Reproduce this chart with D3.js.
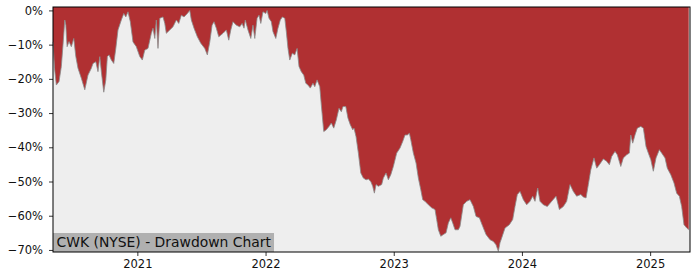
<!DOCTYPE html>
<html><head><meta charset="utf-8">
<script src="https://cdn.jsdelivr.net/npm/d3@7"></script>
<style>body{margin:0;background:#fff}svg{display:block}</style>
</head><body>
<svg id="c" width="700" height="280"></svg>
<script>
// decimal-year dates and drawdown values (%)
const dates = [2020.342,2020.354,2020.368,2020.389,2020.407,2020.420,2020.434,2020.442,2020.452,2020.467,2020.485,2020.504,2020.520,2020.537,2020.563,2020.590,2020.615,2020.641,2020.654,2020.676,2020.693,2020.707,2020.719,2020.738,2020.754,2020.766,2020.779,2020.797,2020.816,2020.832,2020.849,2020.875,2020.894,2020.910,2020.927,2020.945,2020.966,2020.992,2021.019,2021.039,2021.058,2021.083,2021.109,2021.122,2021.136,2021.148,2021.161,2021.175,2021.200,2021.214,2021.226,2021.253,2021.278,2021.304,2021.323,2021.343,2021.364,2021.390,2021.409,2021.421,2021.442,2021.468,2021.495,2021.526,2021.546,2021.565,2021.583,2021.598,2021.616,2021.635,2021.668,2021.694,2021.713,2021.729,2021.746,2021.772,2021.799,2021.817,2021.832,2021.842,2021.863,2021.885,2021.902,2021.916,2021.934,2021.949,2021.963,2021.980,2022.002,2022.012,2022.027,2022.045,2022.058,2022.080,2022.097,2022.115,2022.131,2022.150,2022.162,2022.175,2022.189,2022.209,2022.228,2022.246,2022.261,2022.279,2022.298,2022.314,2022.331,2022.349,2022.370,2022.384,2022.402,2022.423,2022.435,2022.454,2022.474,2022.495,2022.513,2022.532,2022.552,2022.573,2022.591,2022.604,2022.626,2022.643,2022.661,2022.680,2022.690,2022.706,2022.724,2022.743,2022.763,2022.784,2022.802,2022.821,2022.836,2022.849,2022.862,2022.880,2022.906,2022.919,2022.940,2022.958,2022.977,2022.997,2023.023,2023.049,2023.070,2023.088,2023.106,2023.122,2023.133,2023.153,2023.174,2023.192,2023.211,2023.226,2023.244,2023.270,2023.296,2023.322,2023.335,2023.348,2023.367,2023.387,2023.408,2023.426,2023.445,2023.460,2023.478,2023.504,2023.517,2023.543,2023.569,2023.595,2023.621,2023.642,2023.668,2023.694,2023.720,2023.751,2023.777,2023.798,2023.816,2023.829,2023.842,2023.868,2023.902,2023.928,2023.946,2023.964,2023.985,2024.011,2024.037,2024.063,2024.084,2024.102,2024.123,2024.141,2024.167,2024.198,2024.232,2024.266,2024.292,2024.323,2024.349,2024.375,2024.401,2024.427,2024.459,2024.479,2024.500,2024.518,2024.537,2024.562,2024.583,2024.604,2024.635,2024.661,2024.682,2024.700,2024.726,2024.744,2024.771,2024.791,2024.817,2024.838,2024.849,2024.864,2024.882,2024.900,2024.927,2024.947,2024.968,2024.986,2025.005,2025.025,2025.046,2025.072,2025.090,2025.116,2025.134,2025.161,2025.186,2025.207,2025.228,2025.246,2025.264,2025.286,2025.301];
const drawdown = [-9.2,-17,-21.8,-20.8,-16.4,-10.1,-2.8,-4.3,-10.6,-9.1,-10.6,-8.2,-13.5,-16.9,-19.8,-23.2,-18.9,-16.9,-15.5,-15.0,-17.9,-13.5,-17.9,-23.9,-20.3,-13.5,-13.0,-14.5,-15.5,-11.1,-5.7,-2.8,-0.9,-1.9,-0.4,-3.3,-9.2,-10.6,-13.5,-14.5,-11.6,-11.1,-6.7,-5.2,-8.2,-2.8,-11.1,-2.3,-1.9,-3.8,-6.7,-5.7,-4.8,-2.8,-3.8,-1.4,-1.9,-0.9,0,-2.8,-5.2,-7.7,-9.6,-11.1,-13.0,-9.2,-4.3,-3.3,-5.2,-7.7,-6.7,-5.7,-8.7,-5.7,-3.3,-4.3,-4.8,-3.8,-5.2,-2.8,-5.7,-8.2,-4.3,-8.2,-2.3,-1.4,-3.8,-0.4,-0.9,0,-2.3,-3.3,-6.2,-8.2,-5.2,-2.8,-1.9,-2.3,-6.2,-11.1,-14.5,-12.5,-13.0,-11.1,-16.4,-17.9,-18.9,-21.3,-21.8,-22.7,-21.3,-22.3,-20.3,-22.3,-27.6,-35.4,-34.9,-33.9,-32.9,-34.4,-32.0,-28.6,-29.6,-28.1,-28.1,-31.5,-33.4,-34.9,-34.4,-36.9,-41.7,-47.5,-49.0,-49.5,-49.3,-50.0,-51.4,-53.4,-50.9,-51.4,-50.9,-49.0,-47.5,-49.5,-48.0,-45.6,-41.7,-40.2,-38.3,-36.4,-36.4,-35.9,-37.8,-41.7,-44.6,-49.0,-52.4,-55.3,-55.8,-56.8,-57.7,-58.2,-61.1,-64.1,-66.0,-65.5,-65.0,-62.1,-60.6,-62.1,-64.1,-64.1,-63.1,-56.8,-55.8,-55.3,-57.3,-60.2,-60.6,-63.1,-65.5,-67.0,-67.5,-68.5,-70.4,-67.9,-66.5,-63.6,-62.6,-61.1,-57.3,-53.8,-52.9,-55.3,-56.8,-55.8,-54.3,-55.8,-51.9,-55.8,-56.8,-57.3,-55.8,-54.3,-58.2,-57.3,-55.8,-50.9,-52.9,-54.3,-53.8,-54.5,-54.8,-50.9,-46.6,-43.1,-46.1,-45.1,-43.4,-44.1,-45.1,-42.7,-41.2,-42.2,-45.6,-43.1,-42.2,-41.7,-36.4,-38.8,-36.4,-34.4,-33.9,-34.4,-39.8,-41.7,-43.6,-47.0,-43.1,-40.7,-41.7,-43.1,-46.1,-48.0,-50.4,-53.4,-54.3,-57.3,-62.6,-63.6,-64.1];
const yTicks = [0,-10,-20,-30,-40,-50,-60,-70];
const xTicks = [2021,2022,2023,2024,2025];
const title = "CWK (NYSE) - Drawdown Chart";

const data = dates.map((d,i)=>({t:d, v:drawdown[i]}));
const m = {l:53, t:7, r:10, b:28};
const W = 700, H = 280;
const iw = W-m.l-m.r, ih = H-m.t-m.b;
const svg = d3.select("#c");
const g = svg.append("g").attr("transform",`translate(${m.l},${m.t})`);
const x = d3.scaleLinear().domain([2020.342, 2025.311]).range([0, iw]);
const y = d3.scaleLinear().domain([-70.6, 1.0]).range([ih, 0]);
const font = "'DejaVu Sans', sans-serif";

g.append("rect").attr("width",iw).attr("height",ih).attr("fill","#eeeeee");
g.append("path").datum(data)
  .attr("d", d3.area().x(d=>x(d.t)).y0(0).y1(d=>y(d.v)))
  .attr("fill","#b03032");
g.append("path").datum(data)
  .attr("d", d3.line().x(d=>x(d.t)).y(d=>y(d.v)))
  .attr("fill","none").attr("stroke","#8a8a8a").attr("stroke-width",0.8);

// label box
const lbl = g.append("g");
const tx = lbl.append("text").attr("x",3.5).attr("y",ih-5)
  .attr("font-family",font).attr("font-size",13.9).attr("fill","#111").text(title);
const bb = tx.node().getBBox();
lbl.insert("rect","text").attr("x",0).attr("y",ih-19).attr("width",bb.width+6).attr("height",19).attr("fill","#b0b0b0");

// axes
const ya = g.append("g").call(d3.axisLeft(y).tickValues(yTicks).tickSize(4).tickPadding(6)
  .tickFormat(d=> (d<0?"\u2212":"") + Math.abs(d) + "%"));
const xa = g.append("g").attr("transform",`translate(0,${ih})`)
  .call(d3.axisBottom(x).tickValues(xTicks).tickSize(4).tickPadding(4).tickFormat(d3.format("d")));
[ya,xa].forEach(a=>{
  a.select(".domain").remove();
  a.selectAll("text").attr("font-family",font).attr("font-size",11.5).attr("fill","#111");
  a.selectAll("line").attr("stroke","#000").attr("stroke-width",0.8);
});
g.append("rect").attr("width",iw).attr("height",ih).attr("fill","none").attr("stroke","#000").attr("stroke-width",1);
</script>
</body></html>
